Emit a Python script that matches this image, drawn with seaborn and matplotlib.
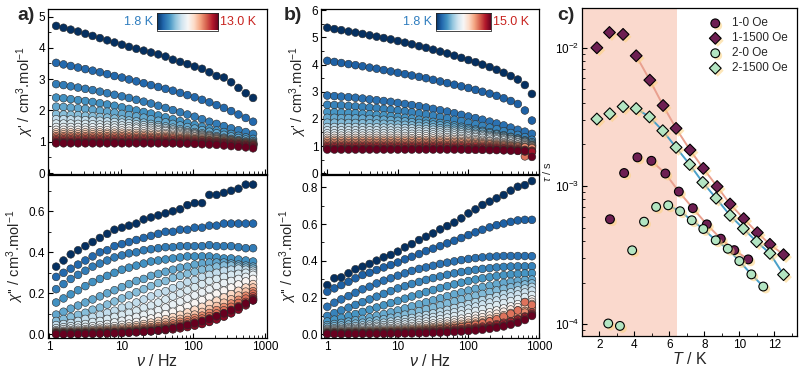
import numpy as np
import pandas as pd
import matplotlib
matplotlib.use("Agg")
import matplotlib.pyplot as plt
import matplotlib.patheffects as pe
from matplotlib.ticker import MultipleLocator, LogLocator, NullFormatter, FuncFormatter, FormatStrFormatter
import seaborn as sns

sns.set_theme(style="ticks")
plt.rcParams["font.family"] = ["Liberation Sans", "DejaVu Sans"]
plt.rcParams["mathtext.fontset"] = "custom"
plt.rcParams["mathtext.rm"] = "Liberation Sans"
plt.rcParams["mathtext.it"] = "Liberation Sans:italic"
plt.rcParams["mathtext.bf"] = "Liberation Sans:bold"

# ---------------- data: panel a ----------------
freq_a = [1.24, 1.57, 1.98, 2.50, 3.16, 3.99, 5.04, 6.37, 8.04, 10.2,
          12.8, 16.2, 20.5, 25.9, 32.7, 41.3, 52.2, 65.9, 83.2, 105,
          133, 168, 212, 268, 338, 427, 540, 682]
temps_a = [1.8, 3.0, 3.5, 4.0, 4.5, 5.0, 6.0, 6.5, 7.0, 7.5,
           8.5, 9.0, 10.0, 10.5, 11.0, 11.5, 12.0, 12.5, 13.0]
chi_re_a = [
    [4.70,4.64,4.58,4.52,4.45,4.38,4.31,4.24,4.17,4.10, 4.03,3.97,3.91,3.85,3.79,3.72,3.62,3.55,3.48,3.40, 3.33,3.22,3.10,3.05,2.90,2.72,2.55,2.40],
    [3.52,3.47,3.42,3.37,3.32,3.27,3.22,3.16,3.10,3.05, 2.99,2.93,2.87,2.81,2.75,2.69,2.63,2.56,2.49,2.42, 2.34,2.26,2.17,2.08,1.98,1.87,1.76,1.64],
    [2.84,2.81,2.77,2.73,2.69,2.65,2.60,2.55,2.50,2.45, 2.40,2.34,2.28,2.22,2.15,2.08,2.01,1.94,1.87,1.80, 1.72,1.64,1.57,1.50,1.43,1.37,1.31,1.25],
    [2.41,2.39,2.36,2.33,2.30,2.27,2.23,2.19,2.15,2.10, 2.05,2.00,1.95,1.90,1.84,1.78,1.72,1.66,1.60,1.54, 1.48,1.42,1.36,1.31,1.25,1.19,1.14,1.09],
    [2.12,2.11,2.09,2.07,2.05,2.02,1.99,1.96,1.93,1.89, 1.85,1.81,1.77,1.72,1.67,1.62,1.57,1.52,1.47,1.42, 1.37,1.32,1.27,1.22,1.17,1.12,1.07,1.02],
    [1.88,1.87,1.86,1.85,1.83,1.81,1.79,1.77,1.74,1.71, 1.68,1.65,1.61,1.57,1.53,1.49,1.45,1.40,1.36,1.31, 1.27,1.22,1.18,1.13,1.09,1.05,1.01,0.98],
    [1.72,1.72,1.71,1.70,1.69,1.68,1.67,1.65,1.63,1.61, 1.59,1.56,1.53,1.50,1.47,1.43,1.39,1.35,1.31,1.27, 1.23,1.19,1.15,1.11,1.07,1.03,0.99,0.96],
    [1.58,1.58,1.58,1.57,1.57,1.56,1.55,1.54,1.53,1.52, 1.50,1.48,1.46,1.44,1.41,1.38,1.35,1.32,1.28,1.25, 1.21,1.17,1.13,1.09,1.05,1.02,0.98,0.95],
    [1.47,1.47,1.47,1.47,1.46,1.46,1.46,1.45,1.45,1.44, 1.43,1.42,1.40,1.38,1.36,1.34,1.31,1.28,1.25,1.22, 1.18,1.15,1.11,1.08,1.04,1.01,0.97,0.94],
    [1.38,1.38,1.38,1.38,1.38,1.37,1.37,1.37,1.36,1.36, 1.35,1.34,1.33,1.32,1.30,1.28,1.26,1.24,1.21,1.18, 1.15,1.12,1.09,1.06,1.03,1.00,0.96,0.93],
    [1.30,1.30,1.30,1.30,1.30,1.30,1.30,1.29,1.29,1.29, 1.28,1.28,1.27,1.26,1.25,1.24,1.22,1.20,1.18,1.16, 1.13,1.11,1.08,1.05,1.02,0.99,0.95,0.92],
    [1.24,1.24,1.24,1.24,1.24,1.24,1.24,1.24,1.23,1.23, 1.23,1.22,1.22,1.21,1.20,1.19,1.18,1.16,1.14,1.12, 1.10,1.08,1.06,1.03,1.01,0.98,0.95,0.92],
    [1.18,1.18,1.18,1.18,1.18,1.18,1.18,1.18,1.18,1.18, 1.17,1.17,1.17,1.16,1.15,1.15,1.14,1.12,1.11,1.09, 1.07,1.05,1.03,1.01,0.99,0.96,0.94,0.91],
    [1.13,1.13,1.13,1.13,1.13,1.13,1.13,1.13,1.13,1.13, 1.13,1.12,1.12,1.12,1.11,1.11,1.10,1.09,1.08,1.07, 1.05,1.04,1.02,1.00,0.98,0.96,0.93,0.90],
    [1.08,1.08,1.08,1.08,1.08,1.08,1.08,1.08,1.08,1.08, 1.08,1.08,1.08,1.07,1.07,1.07,1.06,1.06,1.05,1.04, 1.03,1.02,1.00,0.98,0.96,0.94,0.92,0.89],
    [1.04,1.04,1.04,1.04,1.04,1.04,1.04,1.04,1.04,1.04, 1.04,1.04,1.04,1.04,1.03,1.03,1.03,1.02,1.02,1.01, 1.00,0.99,0.98,0.96,0.94,0.92,0.90,0.88],
    [1.00,1.00,1.00,1.00,1.00,1.00,1.00,1.00,1.00,1.00, 1.00,1.00,1.00,1.00,1.00,1.00,0.99,0.99,0.99,0.98, 0.98,0.97,0.96,0.95,0.93,0.91,0.89,0.86],
    [0.97,0.97,0.97,0.97,0.97,0.97,0.97,0.97,0.97,0.97, 0.97,0.97,0.97,0.97,0.97,0.97,0.96,0.96,0.96,0.95, 0.95,0.94,0.93,0.92,0.90,0.88,0.86,0.83],
    [0.95,0.95,0.95,0.95,0.95,0.95,0.95,0.95,0.95,0.95, 0.95,0.95,0.95,0.95,0.95,0.95,0.95,0.94,0.94,0.93, 0.92,0.91,0.90,0.88,0.86,0.84,0.82,0.79],
]
chi_im_a = [
    [0.33,0.36,0.39,0.41,0.43,0.45,0.47,0.49,0.51,0.52, 0.53,0.54,0.56,0.57,0.58,0.59,0.60,0.61,0.63,0.64, 0.64,0.68,0.68,0.69,0.70,0.71,0.73,0.73],
    [0.28,0.30,0.32,0.34,0.36,0.38,0.40,0.41,0.43,0.44, 0.45,0.46,0.47,0.48,0.49,0.50,0.50,0.51,0.51,0.52, 0.52,0.53,0.53,0.54,0.54,0.54,0.54,0.54],
    [0.22,0.245,0.27,0.29,0.31,0.33,0.345,0.36,0.375,0.385, 0.395,0.40,0.41,0.415,0.42,0.425,0.425,0.43,0.43,0.43, 0.43,0.435,0.43,0.43,0.43,0.425,0.42,0.42],
    [0.155,0.175,0.195,0.215,0.235,0.255,0.27,0.285,0.30,0.315, 0.325,0.335,0.345,0.355,0.36,0.365,0.37,0.375,0.38,0.38, 0.38,0.38,0.375,0.37,0.37,0.365,0.36,0.355],
    [0.096,0.11,0.125,0.14,0.155,0.17,0.185,0.20,0.215,0.23, 0.245,0.26,0.27,0.285,0.295,0.305,0.315,0.325,0.33,0.34, 0.345,0.35,0.35,0.35,0.345,0.34,0.335,0.33],
    [0.065,0.075,0.085,0.095,0.105,0.12,0.13,0.145,0.16,0.175, 0.19,0.205,0.22,0.235,0.25,0.26,0.275,0.285,0.295,0.305, 0.315,0.32,0.33,0.335,0.335,0.33,0.325,0.32],
    [0.045,0.05,0.055,0.065,0.075,0.085,0.095,0.105,0.115,0.13, 0.14,0.155,0.17,0.185,0.20,0.21,0.225,0.24,0.255,0.265, 0.28,0.29,0.30,0.31,0.315,0.32,0.315,0.31],
    [0.03,0.035,0.04,0.045,0.05,0.06,0.065,0.075,0.085,0.095, 0.105,0.115,0.13,0.14,0.155,0.17,0.185,0.20,0.215,0.23, 0.245,0.26,0.27,0.28,0.29,0.295,0.30,0.30],
    [0.02,0.025,0.028,0.032,0.036,0.04,0.045,0.05,0.058,0.066, 0.075,0.085,0.095,0.105,0.118,0.13,0.145,0.16,0.175,0.19, 0.205,0.22,0.235,0.25,0.26,0.27,0.28,0.29],
    [0.015,0.017,0.02,0.022,0.025,0.028,0.032,0.036,0.04,0.046, 0.052,0.06,0.068,0.077,0.087,0.098,0.11,0.123,0.137,0.152, 0.167,0.182,0.198,0.213,0.228,0.243,0.258,0.27],
    [0.012,0.013,0.015,0.017,0.019,0.021,0.024,0.027,0.03,0.034, 0.039,0.044,0.05,0.057,0.065,0.074,0.084,0.095,0.107,0.12, 0.134,0.149,0.164,0.18,0.196,0.212,0.228,0.245],
    [0.01,0.011,0.012,0.013,0.015,0.017,0.019,0.021,0.024,0.027, 0.031,0.035,0.04,0.045,0.051,0.058,0.066,0.075,0.085,0.096, 0.109,0.123,0.138,0.154,0.171,0.189,0.208,0.228],
    [0.008,0.009,0.01,0.011,0.012,0.013,0.015,0.017,0.019,0.021, 0.024,0.027,0.031,0.035,0.04,0.046,0.053,0.061,0.07,0.08, 0.091,0.104,0.118,0.133,0.15,0.168,0.188,0.21],
    [0.006,0.007,0.008,0.008,0.009,0.01,0.011,0.013,0.014,0.016, 0.018,0.021,0.024,0.028,0.032,0.037,0.043,0.05,0.058,0.067, 0.077,0.089,0.102,0.117,0.134,0.153,0.174,0.198],
    [0.005,0.005,0.006,0.006,0.007,0.008,0.009,0.01,0.011,0.013, 0.015,0.017,0.02,0.023,0.027,0.031,0.036,0.042,0.049,0.057, 0.066,0.077,0.089,0.103,0.119,0.137,0.158,0.185],
    [0.004,0.004,0.005,0.005,0.006,0.006,0.007,0.008,0.009,0.01, 0.012,0.014,0.016,0.019,0.022,0.026,0.03,0.035,0.041,0.048, 0.056,0.066,0.078,0.092,0.108,0.127,0.149,0.176],
    [0.003,0.003,0.004,0.004,0.005,0.005,0.006,0.007,0.008,0.009, 0.01,0.012,0.014,0.016,0.019,0.022,0.026,0.031,0.037,0.044, 0.052,0.062,0.074,0.088,0.104,0.123,0.145,0.172],
    [0.002,0.002,0.003,0.003,0.003,0.004,0.004,0.005,0.006,0.007, 0.008,0.01,0.012,0.014,0.017,0.02,0.024,0.029,0.035,0.042, 0.05,0.06,0.072,0.086,0.102,0.12,0.141,0.166],
    [0.0,0.0,0.001,0.001,0.002,0.002,0.003,0.004,0.005,0.006, 0.008,0.01,0.012,0.015,0.019,0.024,0.03,0.037,0.045,0.054, 0.064,0.075,0.088,0.102,0.117,0.133,0.15,0.165],
]

# ---------------- data: panel b ----------------
freq_b = [1.00, 1.26, 1.58, 2.00, 2.51, 3.16, 3.98, 5.01, 6.31, 7.94,
          10.0, 12.6, 15.8, 20.0, 25.1, 31.6, 39.8, 50.1, 63.1, 79.4,
          100, 126, 158, 200, 251, 316, 398, 501, 631, 794]
temps_b = [1.8, 3.0, 3.5, 4.0, 4.5, 5.0, 5.5, 6.5, 7.0, 7.5,
           8.5, 9.0, 10.0, 11.0, 11.5, 12.0, 13.0, 13.5, 14.0, 15.0]
chi_re_b = [
    [5.36,5.31,5.27,5.22,5.18,5.13,5.08,5.03,4.98,4.93, 4.87,4.81,4.75,4.68,4.62,4.55,4.48,4.41,4.33,4.25, 4.17,4.09,4.00,3.91,3.81,3.70,3.58,3.45,3.25,2.92],
    [4.14,4.10,4.06,4.02,3.98,3.94,3.89,3.85,3.80,3.75, 3.70,3.65,3.60,3.55,3.50,3.44,3.38,3.32,3.26,3.20, 3.14,3.07,3.00,2.93,2.85,2.76,2.66,2.55,2.31,1.94],
    [2.86,2.84,2.82,2.80,2.78,2.75,2.72,2.69,2.66,2.63, 2.59,2.55,2.51,2.47,2.42,2.37,2.32,2.27,2.21,2.15, 2.09,2.03,1.97,1.90,1.83,1.76,1.68,1.60,1.53,1.45],
    [2.52,2.51,2.50,2.48,2.46,2.44,2.42,2.40,2.37,2.34, 2.31,2.28,2.24,2.20,2.16,2.12,2.07,2.02,1.97,1.92, 1.86,1.80,1.74,1.68,1.62,1.55,1.48,1.41,1.33,1.23],
    [2.25,2.24,2.23,2.22,2.21,2.19,2.17,2.15,2.13,2.10, 2.07,2.04,2.01,1.97,1.93,1.89,1.85,1.80,1.76,1.71, 1.66,1.61,1.56,1.51,1.45,1.40,1.34,1.28,1.21,1.14],
    [2.04,2.04,2.03,2.03,2.02,2.01,2.00,1.98,1.97,1.95, 1.93,1.91,1.88,1.85,1.82,1.79,1.76,1.72,1.68,1.64, 1.60,1.56,1.52,1.47,1.42,1.37,1.32,1.26,1.19,1.09],
    [1.86,1.86,1.86,1.85,1.85,1.84,1.84,1.83,1.82,1.81, 1.79,1.78,1.76,1.74,1.72,1.69,1.66,1.63,1.60,1.57, 1.53,1.49,1.45,1.41,1.37,1.32,1.27,1.22,1.16,1.05],
    [1.70,1.70,1.70,1.70,1.70,1.69,1.69,1.69,1.68,1.68, 1.67,1.66,1.65,1.63,1.62,1.60,1.58,1.56,1.53,1.50, 1.47,1.44,1.41,1.37,1.33,1.29,1.25,1.20,1.14,1.03],
    [1.58,1.58,1.58,1.58,1.58,1.58,1.58,1.58,1.57,1.57, 1.56,1.56,1.55,1.54,1.53,1.51,1.50,1.48,1.46,1.44, 1.41,1.38,1.35,1.32,1.28,1.24,1.20,1.15,1.10,1.02],
    [1.47,1.47,1.47,1.47,1.47,1.47,1.47,1.47,1.47,1.47, 1.46,1.46,1.45,1.45,1.44,1.43,1.42,1.41,1.39,1.37, 1.35,1.33,1.30,1.27,1.24,1.20,1.16,1.12,1.07,1.01],
    [1.38,1.38,1.38,1.38,1.38,1.38,1.38,1.38,1.38,1.38, 1.38,1.37,1.37,1.37,1.36,1.35,1.34,1.33,1.32,1.30, 1.28,1.26,1.23,1.20,1.17,1.14,1.10,1.06,1.03,1.00],
    [1.30,1.30,1.30,1.30,1.30,1.30,1.30,1.30,1.30,1.30, 1.30,1.30,1.29,1.29,1.29,1.28,1.27,1.27,1.26,1.25, 1.23,1.21,1.19,1.17,1.14,1.11,1.08,1.05,1.02,0.99],
    [1.23,1.23,1.23,1.23,1.23,1.23,1.23,1.23,1.23,1.23, 1.23,1.23,1.23,1.22,1.22,1.22,1.21,1.21,1.20,1.19, 1.18,1.16,1.14,1.12,1.10,1.07,1.04,1.01,0.98,0.96],
    [1.17,1.17,1.17,1.17,1.17,1.17,1.17,1.17,1.17,1.17, 1.17,1.17,1.17,1.17,1.16,1.16,1.16,1.15,1.15,1.14, 1.13,1.12,1.10,1.08,1.06,1.04,1.01,0.99,0.96,0.94],
    [1.11,1.11,1.11,1.11,1.11,1.11,1.11,1.11,1.11,1.11, 1.11,1.11,1.11,1.11,1.11,1.10,1.10,1.10,1.09,1.09, 1.08,1.07,1.06,1.05,1.03,1.01,0.99,0.97,0.95,0.92],
    [1.05,1.05,1.05,1.05,1.05,1.05,1.05,1.05,1.05,1.05, 1.05,1.05,1.05,1.05,1.05,1.05,1.04,1.04,1.04,1.03, 1.03,1.02,1.01,1.00,0.99,0.97,0.95,0.93,0.62,0.80],
    [1.00,1.00,1.00,1.00,1.00,1.00,1.00,1.00,1.00,1.00, 1.00,1.00,1.00,1.00,1.00,1.00,1.00,0.99,0.99,0.99, 0.98,0.98,0.97,0.96,0.95,0.93,0.91,0.89,0.86,0.83],
    [0.95,0.95,0.95,0.95,0.95,0.95,0.95,0.95,0.95,0.95, 0.95,0.95,0.95,0.95,0.95,0.95,0.95,0.95,0.94,0.94, 0.94,0.93,0.93,0.92,0.91,0.90,0.88,0.86,0.84,0.81],
    [0.90,0.90,0.90,0.90,0.90,0.90,0.90,0.90,0.90,0.90, 0.90,0.90,0.90,0.90,0.90,0.90,0.90,0.90,0.90,0.89, 0.89,0.89,0.88,0.88,0.87,0.86,0.85,0.83,0.80,0.78],
    [0.87,0.87,0.87,0.87,0.87,0.87,0.87,0.87,0.87,0.87, 0.87,0.87,0.87,0.87,0.87,0.87,0.87,0.87,0.87,0.87, 0.86,0.86,0.86,0.85,0.85,0.84,0.83,0.82,0.82,0.60],
]
chi_im_b = [
    [0.268,0.305,0.31,0.332,0.354,0.368,0.383,0.401,0.419,0.432, 0.45,0.473,0.491,0.513,0.531,0.549,0.571,0.589,0.608,0.631, 0.658,0.68,0.704,0.722,0.74,0.758,0.782,0.803,0.812,0.834],
    [0.232,0.25,0.268,0.286,0.305,0.323,0.335,0.35,0.364,0.377, 0.391,0.408,0.422,0.437,0.453,0.466,0.48,0.495,0.509,0.524, 0.54,0.555,0.569,0.582,0.594,0.603,0.612,0.62,0.623,0.623],
    [0.15,0.172,0.19,0.208,0.226,0.245,0.259,0.277,0.292,0.305, 0.319,0.332,0.345,0.356,0.364,0.373,0.383,0.39,0.397,0.404, 0.41,0.415,0.419,0.422,0.424,0.426,0.426,0.426,0.426,0.425],
    [0.10,0.115,0.13,0.145,0.16,0.175,0.19,0.205,0.22,0.235, 0.25,0.262,0.274,0.285,0.296,0.306,0.315,0.324,0.332,0.339, 0.345,0.351,0.356,0.36,0.364,0.367,0.369,0.37,0.37,0.37],
    [0.07,0.08,0.09,0.10,0.11,0.122,0.134,0.146,0.158,0.17, 0.182,0.194,0.206,0.218,0.23,0.241,0.252,0.262,0.272,0.281, 0.29,0.298,0.305,0.311,0.317,0.322,0.326,0.329,0.331,0.332],
    [0.05,0.056,0.062,0.069,0.076,0.084,0.092,0.101,0.11,0.12, 0.13,0.141,0.152,0.163,0.174,0.185,0.196,0.207,0.218,0.228, 0.238,0.248,0.257,0.265,0.273,0.28,0.286,0.291,0.295,0.298],
    [0.04,0.044,0.048,0.053,0.058,0.063,0.069,0.075,0.082,0.09, 0.098,0.107,0.116,0.126,0.136,0.146,0.157,0.168,0.179,0.19, 0.2,0.21,0.22,0.23,0.239,0.248,0.256,0.264,0.271,0.277],
    [0.03,0.033,0.036,0.04,0.044,0.048,0.053,0.058,0.063,0.069, 0.075,0.082,0.089,0.097,0.105,0.114,0.123,0.133,0.143,0.153, 0.164,0.175,0.186,0.197,0.208,0.219,0.229,0.239,0.249,0.258],
    [0.025,0.027,0.029,0.032,0.035,0.038,0.042,0.046,0.05,0.055, 0.06,0.066,0.072,0.079,0.086,0.094,0.102,0.111,0.12,0.13, 0.14,0.151,0.162,0.173,0.184,0.195,0.206,0.217,0.228,0.238],
    [0.02,0.022,0.024,0.026,0.028,0.031,0.034,0.037,0.04,0.044, 0.048,0.053,0.058,0.063,0.069,0.076,0.083,0.091,0.099,0.108, 0.117,0.127,0.137,0.148,0.159,0.17,0.181,0.192,0.203,0.214],
    [0.016,0.017,0.019,0.02,0.022,0.024,0.026,0.029,0.031,0.034, 0.037,0.041,0.045,0.049,0.054,0.059,0.065,0.071,0.078,0.085, 0.093,0.101,0.11,0.12,0.13,0.141,0.152,0.164,0.176,0.19],
    [0.013,0.014,0.015,0.016,0.018,0.019,0.021,0.023,0.025,0.027, 0.03,0.033,0.036,0.04,0.044,0.048,0.053,0.058,0.064,0.07, 0.077,0.085,0.093,0.102,0.112,0.123,0.135,0.148,0.162,0.177],
    [0.011,0.012,0.013,0.014,0.015,0.016,0.017,0.019,0.02,0.022, 0.024,0.027,0.029,0.032,0.035,0.039,0.043,0.047,0.052,0.057, 0.063,0.07,0.077,0.085,0.094,0.104,0.116,0.13,0.146,0.165],
    [0.009,0.01,0.011,0.011,0.012,0.013,0.014,0.015,0.017,0.018, 0.02,0.022,0.024,0.026,0.029,0.032,0.035,0.039,0.043,0.047, 0.052,0.058,0.064,0.071,0.079,0.088,0.099,0.112,0.127,0.145],
    [0.007,0.008,0.008,0.009,0.01,0.01,0.011,0.012,0.013,0.014, 0.016,0.017,0.019,0.021,0.023,0.026,0.029,0.032,0.035,0.039, 0.044,0.049,0.055,0.062,0.07,0.079,0.09,0.103,0.118,0.138],
    [0.006,0.006,0.007,0.007,0.008,0.008,0.009,0.01,0.011,0.012, 0.013,0.014,0.016,0.018,0.02,0.023,0.026,0.03,0.034,0.039, 0.045,0.052,0.06,0.07,0.082,0.096,0.112,0.13,0.175,0.16],
    [0.005,0.005,0.005,0.006,0.006,0.007,0.007,0.008,0.009,0.01, 0.011,0.012,0.013,0.014,0.016,0.018,0.02,0.023,0.026,0.029, 0.033,0.037,0.042,0.048,0.055,0.063,0.072,0.083,0.097,0.118],
    [0.004,0.004,0.004,0.005,0.005,0.005,0.006,0.006,0.007,0.008, 0.008,0.009,0.01,0.011,0.013,0.014,0.016,0.018,0.021,0.024, 0.027,0.031,0.036,0.042,0.049,0.057,0.067,0.079,0.093,0.11],
    [0.003,0.003,0.003,0.003,0.004,0.004,0.004,0.005,0.005,0.006, 0.006,0.007,0.008,0.009,0.01,0.011,0.013,0.015,0.017,0.019, 0.022,0.026,0.03,0.035,0.041,0.048,0.057,0.069,0.085,0.105],
    [0.002,0.002,0.002,0.002,0.002,0.003,0.003,0.003,0.003,0.004, 0.004,0.005,0.005,0.006,0.007,0.008,0.009,0.011,0.013,0.015, 0.018,0.021,0.025,0.03,0.036,0.043,0.052,0.063,0.078,0.1],
]

# ---------------- data: panel c ----------------
T_1_0 = [2.6, 3.41, 4.17, 4.97, 5.77, 6.54, 7.34, 8.14, 8.94, 9.71, 10.51]
tau_1_0 = [5.74e-4, 1.24e-3, 1.61e-3, 1.52e-3, 1.23e-3, 9.1e-4, 6.9e-4, 5.27e-4, 4.15e-4, 3.43e-4, 2.94e-4]
T_1_1500 = [1.85, 2.57, 3.35, 4.10, 4.88, 5.64, 6.38, 7.18, 7.94, 8.73, 9.47, 10.25, 11.03, 11.75, 12.53]
tau_1_1500 = [1.0e-2, 1.29e-2, 1.25e-2, 8.75e-3, 5.83e-3, 3.82e-3, 2.61e-3, 1.82e-3, 1.34e-3, 9.9e-4, 7.4e-4, 5.8e-4, 4.59e-4, 3.78e-4, 3.18e-4]
T_2_0 = [2.50, 3.17, 3.87, 4.55, 5.24, 5.93, 6.61, 7.28, 7.94, 8.65, 9.34, 10.0, 10.69, 11.37]
tau_2_0 = [1.01e-4, 9.7e-5, 3.42e-4, 5.51e-4, 7.05e-4, 7.24e-4, 6.56e-4, 5.64e-4, 4.88e-4, 4.04e-4, 3.51e-4, 2.86e-4, 2.29e-4, 1.87e-4]
T_2_1500 = [1.85, 2.59, 3.35, 4.10, 4.86, 5.62, 6.38, 7.16, 7.91, 8.67, 9.47, 10.23, 10.99, 11.75, 12.53]
tau_2_1500 = [3.05e-3, 3.33e-3, 3.75e-3, 3.63e-3, 3.16e-3, 2.51e-3, 1.90e-3, 1.43e-3, 1.06e-3, 8.15e-4, 6.12e-4, 4.91e-4, 3.95e-4, 3.25e-4, 2.28e-4]
fit_start = {"1-0 Oe": 4.9, "1-1500 Oe": 4.0, "2-0 Oe": 5.9, "2-1500 Oe": 4.0}

# ---------------- figure ----------------
W, H = 800, 371
fig = plt.figure(figsize=(W / 100, H / 100), dpi=100)


def fax(x0, y0, x1, y1):
    return fig.add_axes([x0 / W, 1 - y1 / H, (x1 - x0) / W, (y1 - y0) / H])


TICK_FS = 8.5
LAB_FS = 10.5


def style_axis(ax):
    for s in ax.spines.values():
        s.set_linewidth(0.9)
        s.set_color("black")
    ax.tick_params(which="both", direction="in", color="black", labelsize=TICK_FS,
                   labelcolor="black", pad=2)
    ax.tick_params(which="major", length=3.5, width=0.8)
    ax.tick_params(which="minor", length=2, width=0.6)


def long_df(freqs, temps, re, im):
    rows = []
    for T, r, i in zip(temps, re, im):
        for f, a, b in zip(freqs, r, i):
            rows.append((f, a, b, T))
    return pd.DataFrame(rows, columns=["freq", "re", "im", "T"])


plain = FuncFormatter(lambda v, _: f"{v:g}")


def ac_panel(x0, x1, xlim, freqs, temps, re, im, ylim_top, ylim_bot, top_major, bot_major, tmax, letter, lab_x):
    ax_t = fax(x0, 9, x1, 174)
    ax_b = fax(x0, 175, x1, 338)
    df = long_df(freqs, temps, re, im)
    kw = dict(hue="T", palette="RdBu_r", hue_norm=(temps[0], tmax), legend=False,
              s=31, edgecolor="#2a2a2a", linewidth=0.4)
    sns.scatterplot(data=df, x="freq", y="re", ax=ax_t, **kw)
    sns.scatterplot(data=df, x="freq", y="im", ax=ax_b, **kw)
    for ax in (ax_t, ax_b):
        ax.set_xscale("log")
        ax.set_xlim(*xlim)
        ax.xaxis.set_major_locator(LogLocator(base=10, numticks=10))
        ax.xaxis.set_major_formatter(plain)
        ax.xaxis.set_minor_locator(LogLocator(base=10, subs=np.arange(2, 10), numticks=20))
        ax.xaxis.set_minor_formatter(NullFormatter())
        style_axis(ax)
    ax_t.set_ylim(*ylim_top)
    ax_b.set_ylim(*ylim_bot)
    ax_t.yaxis.set_major_locator(MultipleLocator(top_major))
    ax_t.yaxis.set_minor_locator(MultipleLocator(top_major / 2))
    ax_b.yaxis.set_major_locator(MultipleLocator(bot_major))
    ax_b.yaxis.set_minor_locator(MultipleLocator(bot_major / 2))
    ax_b.yaxis.set_major_formatter(FormatStrFormatter("%.1f"))
    ax_t.tick_params(axis="x", labelbottom=False)
    ax_t.set_xlabel("")
    ax_b.set_xlabel(r"$\nu$ / Hz", fontsize=LAB_FS + 1, labelpad=0)
    ax_t.set_ylabel(r"$\chi$' / cm$^{3}$.mol$^{-1}$", fontsize=LAB_FS, labelpad=2)
    ax_b.set_ylabel(r"$\chi$'' / cm$^{3}$.mol$^{-1}$", fontsize=LAB_FS, labelpad=2)
    fig.text(lab_x / W, 1 - 16 / H, letter, fontsize=14, fontweight="bold", va="center", ha="left")
    return ax_t, ax_b


ac_panel(48, 267, (0.955, 1066), freq_a, temps_a, chi_re_a, chi_im_a,
         (-0.03, 5.24), (-0.018, 0.777), 1, 0.2, 13.0, "a)", 17)
ac_panel(321, 539, (0.815, 1000), freq_b, temps_b, chi_re_b, chi_im_b,
         (-0.03, 6.05), (-0.02, 0.867), 1, 0.2, 15.0, "b)", 284)

# colour-bar insets
grad = np.linspace(0, 1, 256)[None, :]
for (cx0, cx1, lo, hi) in [(157, 218, "1.8 K", "13.0 K"), (436, 491, "1.8 K", "15.0 K")]:
    cax = fax(cx0, 12.5, cx1, 30.5)
    cax.imshow(grad, aspect="auto", cmap="RdBu_r")
    cax.set_xticks([])
    cax.set_yticks([])
    for s in cax.spines.values():
        s.set_linewidth(0.6)
    fig.text((cx0 - 4) / W, 1 - 22 / H, lo, color="#2f7dbf", fontsize=9, ha="right", va="center")
    fig.text((cx1 + 2) / W, 1 - 22 / H, hi, color="#c8231f", fontsize=9, ha="left", va="center")

# ---------------- panel c ----------------
axc = fax(582, 8, 797, 336)
axc.axvspan(1.0, 6.45, color="#f9cdbd", alpha=0.75, lw=0, zorder=0)

purple = "#6d1f52"
green = "#b3e5c2"
salmon = "#e9a08f"
blue = "#4aa0c8"
series = [
    ("1-0 Oe", T_1_0, tau_1_0, purple, "o", salmon),
    ("1-1500 Oe", T_1_1500, tau_1_1500, purple, "D", salmon),
    ("2-0 Oe", T_2_0, tau_2_0, green, "o", blue),
    ("2-1500 Oe", T_2_1500, tau_2_1500, green, "D", blue),
]
frames = []
for name, T, tau, col, mk, lc in series:
    frames.append(pd.DataFrame({"T": T, "tau": tau, "series": name}))
dfc = pd.concat(frames, ignore_index=True)

for name, T, tau, col, mk, lc in series:
    sub = dfc[(dfc["series"] == name) & (dfc["T"] >= fit_start[name])]
    sns.lineplot(data=sub, x="T", y="tau", ax=axc, color=lc, lw=1.4, sort=True,
                 legend=False, zorder=2)

shadow = [pe.SimplePatchShadow(offset=(1.8, -1.8), shadow_rgbFace="#fcd27e", alpha=0.55), pe.Normal()]
for name, T, tau, col, mk, lc in series:
    sub = dfc[dfc["series"] == name]
    sns.scatterplot(data=sub, x="T", y="tau", ax=axc, color=col, marker=mk,
                    s=40 if mk == "o" else 36, edgecolor="black", linewidth=0.8,
                    label=name, zorder=3)
    axc.collections[-1].set_path_effects(shadow)

axc.set_yscale("log")
axc.set_xlim(1.0, 13.3)
axc.set_ylim(8.2e-5, 1.94e-2)
axc.xaxis.set_major_locator(MultipleLocator(2))
axc.xaxis.set_minor_locator(MultipleLocator(1))
axc.yaxis.set_major_locator(LogLocator(base=10, numticks=10))
axc.yaxis.set_minor_locator(LogLocator(base=10, subs=np.arange(2, 10), numticks=20))
axc.yaxis.set_minor_formatter(NullFormatter())
style_axis(axc)
axc.set_xlabel(r"$T$ / K", fontsize=LAB_FS + 1, labelpad=0)
axc.set_ylabel(r"$\tau$ / s", fontsize=8, labelpad=1)
leg = axc.legend(loc="upper right", frameon=False, fontsize=8.5, handletextpad=0.4,
                 labelspacing=0.25, borderaxespad=0.4, markerscale=1.0)
fig.text(557 / W, 1 - 16 / H, "c)", fontsize=14, fontweight="bold", va="center", ha="left")

fig.savefig("out.png", dpi=100)
